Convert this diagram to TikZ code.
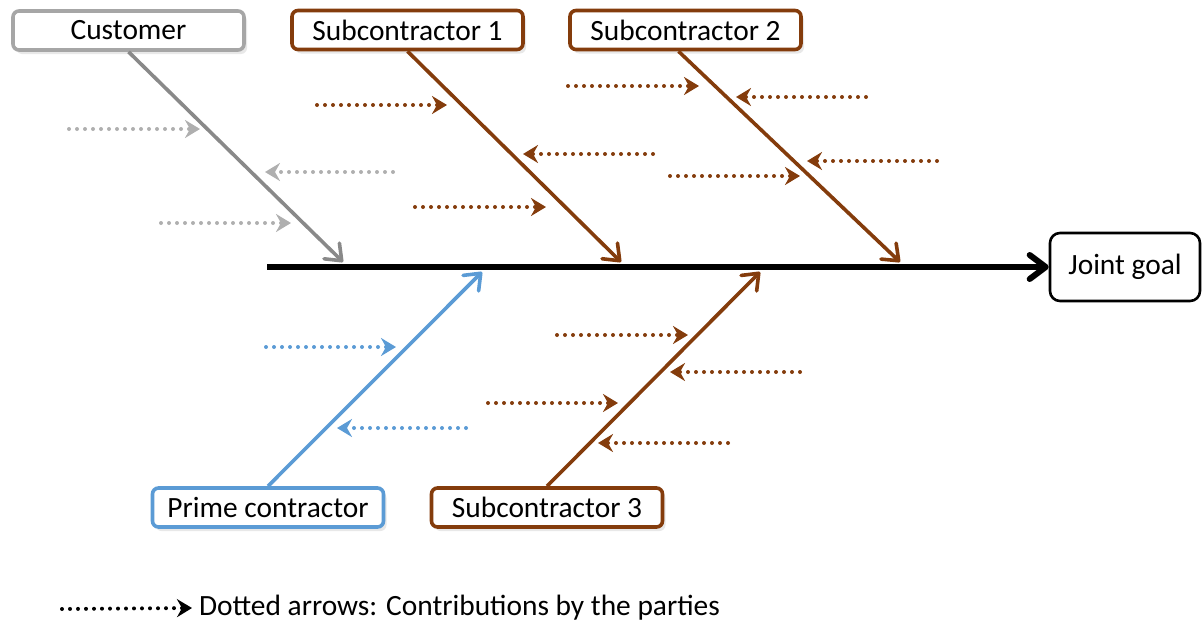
\documentclass[tikz,border=0pt]{standalone}
\usepackage{fontspec}
\setmainfont{Carlito}
\usetikzlibrary{arrows.meta,shadows}
\definecolor{fbBrown}{RGB}{132,60,12}
\definecolor{fbGray}{RGB}{166,166,166}
\definecolor{fbGrayDark}{RGB}{137,137,137}
\definecolor{fbGrayLight}{RGB}{175,175,175}
\definecolor{fbBlue}{RGB}{91,155,213}

\begin{document}
\begin{tikzpicture}[x=0.5pt,y=-0.5pt,
    labelfont/.style={font=\fontsize{14.7}{17}\selectfont},
    party/.style={draw=#1, line width=1.8pt, rounded corners=3pt, fill=white,
        minimum width=115.5pt, minimum height=19.5pt, inner sep=0pt, labelfont,
        drop shadow={opacity=0.18, shadow xshift=1.5pt, shadow yshift=-2pt}},
    goalbox/.style={draw=black, line width=1.3pt, rounded corners=5pt, fill=white,
        minimum width=75pt, minimum height=34pt, inner sep=0pt, labelfont},
    bone/.style={draw=#1, line width=1.8pt, -{Straight Barb[round,length=7pt,width=11pt]}},
    contrib/.style={draw=#1, line width=2pt, line cap=round, dash pattern=on 0pt off 4pt,
        -{Stealth[length=7.5pt,width=9pt,inset=2.5pt]}}]
    \useasboundingbox (0,0) rectangle (1203,621);

    % parties and goal
    \node[party=fbGray] (cust) at (128.5,30.5) {Customer};
    \node[party=fbBrown] (sub1) at (407.5,30) {Subcontractor 1};
    \node[party=fbBrown] (sub2) at (685.5,30) {Subcontractor 2};
    \node[party=fbBlue] (prime) at (268,507.5) {Prime contractor};
    \node[party=fbBrown] (sub3) at (547,507.5) {Subcontractor 3};
    \node[goalbox] (goal) at (1125,267) {Joint goal};

    % spine
    \coordinate (spine) at (267,267);
    \draw[line width=3pt, -{Straight Barb[round,length=8pt,width=12pt]}] (spine) -- (goal.west);

    % bones meet the spine here
    \coordinate (tipC) at (343,262);
    \coordinate (tipS1) at (621,262);
    \coordinate (tipS2) at (900,262);
    \coordinate (tipP) at (482,272);
    \coordinate (tipS3) at (760,272);

    \draw[bone=fbGrayDark] (cust.south) -- (tipC);
    \draw[bone=fbBrown] (sub1.south) -- (tipS1);
    \draw[bone=fbBrown] ([xshift=-3.5pt]sub2.south) -- (tipS2);
    \draw[bone=fbBlue] (prime.north) -- (tipP);
    \draw[bone=fbBrown] (sub3.north) -- (tipS3);

    % contributions (tail x / tip x / y)
    \foreach \xa/\xb/\yy in {69/200/129, 393/265/172, 161/291/223}
        \draw[contrib=fbGrayLight] (\xa,\yy) -- (\xb,\yy);
    \foreach \xa/\xb/\yy in {317/447/105, 653/523/154, 415/546/207,
                             568/699/86, 866/736/97, 937/807/161, 670/800/176,
                             557/688/335, 800/670/372, 488/618/403, 728/598/443}
        \draw[contrib=fbBrown] (\xa,\yy) -- (\xb,\yy);
    \foreach \xa/\xb/\yy in {266/396/347, 466/337/428}
        \draw[contrib=fbBlue] (\xa,\yy) -- (\xb,\yy);

    % legend
    \node[anchor=west, labelfont] (legend) at (192,608) {Dotted arrows: Contributions by the parties};
    \coordinate (legendtail) at (62,609);
    \draw[contrib=black] (legendtail) -- (legend.west);
\end{tikzpicture}
\end{document}
